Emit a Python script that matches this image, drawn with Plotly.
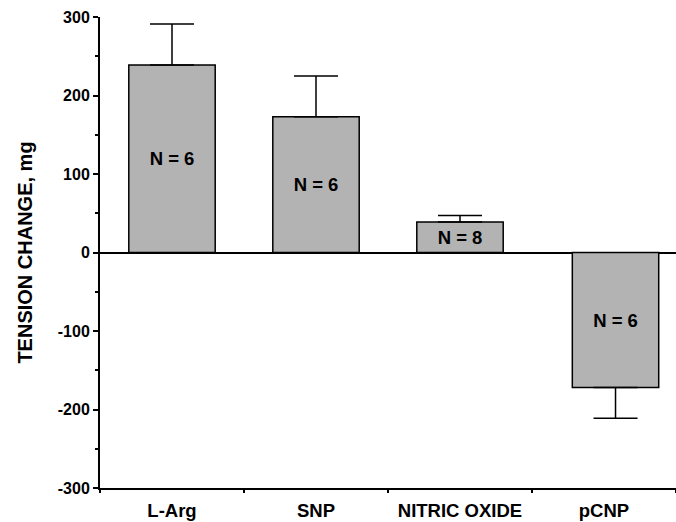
import plotly.graph_objects as go

# Tension change per agent (mg), with SEM and sample size
agents = ["L-Arg", "SNP", "NITRIC OXIDE", "pCNP"]
tension_change = [239, 173, 39, -172]
sem = [52, 52, 8, 39]
n_vessels = [6, 6, 8, 6]

y_ticks = [-300, -200, -100, 0, 100, 200, 300]
y_tick_text = ["-300", "-200", "-100", "0", "100", "200", "300"]
y_minor = [-250, -150, -50, 50, 150, 250]

FONT = "Liberation Sans, Arial, sans-serif"

# one-sided error bars: upward for gains, downward for losses
err_up = [s if v >= 0 else 0 for v, s in zip(tension_change, sem)]
err_down = [s if v < 0 else 0 for v, s in zip(tension_change, sem)]

fig = go.Figure()
fig.add_trace(go.Bar(
    x=agents,
    y=tension_change,
    width=0.6,
    offset=[-0.3, -0.3, -0.3, -0.22],
    marker=dict(color="#b3b3b3", line=dict(color="black", width=1.5)),
    error_y=dict(type="data", symmetric=False, array=err_up, arrayminus=err_down,
                 color="black", thickness=1.5, width=22),
    text=[f"N = {n}" for n in n_vessels],
    textposition="inside",
    insidetextanchor="middle",
    textangle=0,
    constraintext="none",
    textfont=dict(family=FONT, size=18.5, color="black", weight="bold"),
    hoverinfo="skip",
))

fig.update_layout(
    width=676, height=522,
    margin=dict(l=100, r=0, t=17, b=34),
    paper_bgcolor="white", plot_bgcolor="white",
    showlegend=False,
    xaxis=dict(
        showline=True, linecolor="black", linewidth=2,
        ticks="outside", ticklen=3, tickwidth=1.5, tickcolor="black",
        tickson="boundaries",
        ticklabelstandoff=5,
        tickfont=dict(family=FONT, size=18.5, color="black", weight="bold"),
        showgrid=False, zeroline=False,
        range=[-0.5, 3.5],
    ),
    yaxis=dict(
        range=[-300, 300],
        tickmode="array", tickvals=y_ticks, ticktext=y_tick_text,
        ticks="outside", ticklen=5, tickwidth=1.5, tickcolor="black",
        minor=dict(tickmode="array", tickvals=y_minor, ticks="outside",
                   ticklen=3, tickwidth=1.5, tickcolor="black"),
        showline=True, linecolor="black", linewidth=2,
        showgrid=False,
        zeroline=True, zerolinecolor="black", zerolinewidth=1.5,
        tickfont=dict(family=FONT, size=16, color="black", weight="bold"),
        title=dict(text="TENSION CHANGE, mg", standoff=20,
                   font=dict(family=FONT, size=20, color="black", weight="bold")),
    ),
)

fig.write_html("out.html")
